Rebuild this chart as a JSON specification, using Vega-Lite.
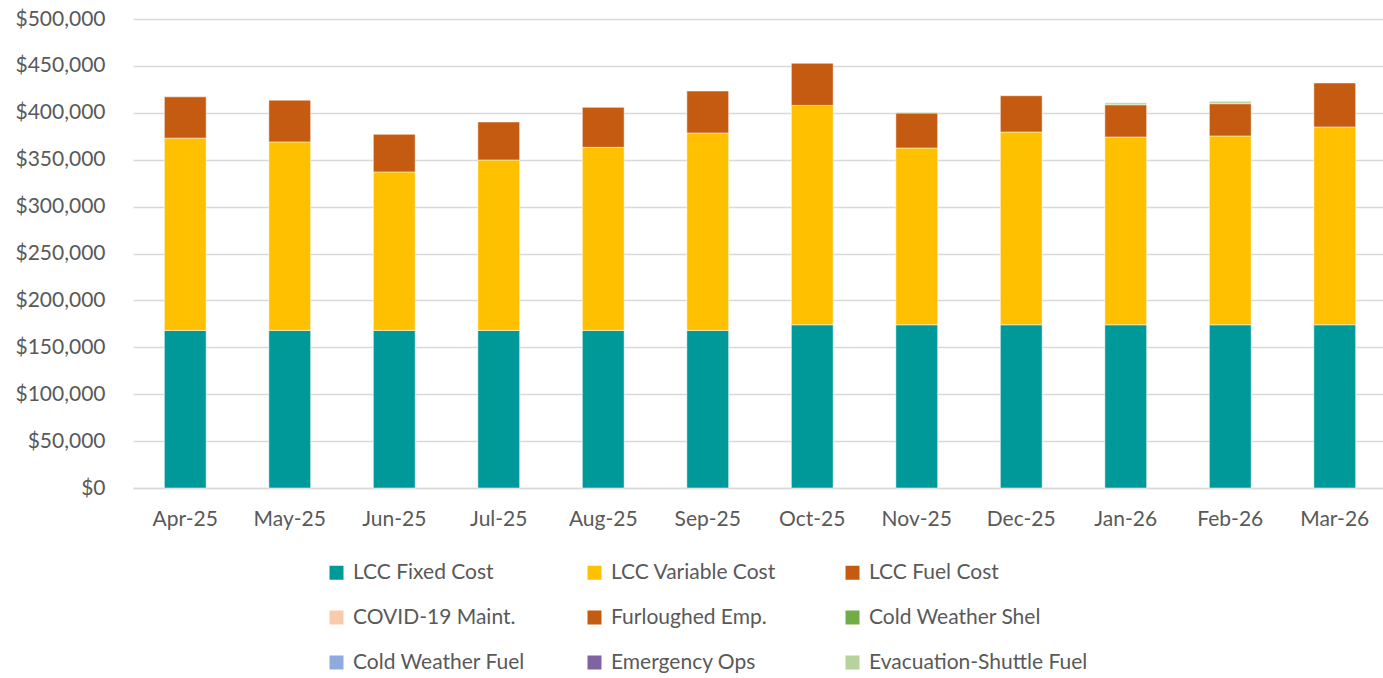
{
  "$schema": "https://vega.github.io/schema/vega-lite/v6.json",
  "autosize": "none",
  "width": 1254,
  "height": 469,
  "padding": {"left": 133, "top": 19, "right": -4, "bottom": 190},
  "background": "white",
  "config": {
    "font": "Lato",
    "view": {"stroke": null},
    "axis": {"labelFont": "Lato", "labelFontSize": 21, "labelColor": "#595959", "ticks": false, "title": null}
  },
  "data": {
    "values": [
      {"month": "Apr-25", "series": "LCC Fixed Cost", "value": 168000},
      {"month": "Apr-25", "series": "LCC Variable Cost", "value": 205000},
      {"month": "Apr-25", "series": "LCC Fuel Cost", "value": 44000},
      {"month": "May-25", "series": "LCC Fixed Cost", "value": 168000},
      {"month": "May-25", "series": "LCC Variable Cost", "value": 201000},
      {"month": "May-25", "series": "LCC Fuel Cost", "value": 44500},
      {"month": "Jun-25", "series": "LCC Fixed Cost", "value": 168000},
      {"month": "Jun-25", "series": "LCC Variable Cost", "value": 169000},
      {"month": "Jun-25", "series": "LCC Fuel Cost", "value": 40000},
      {"month": "Jul-25", "series": "LCC Fixed Cost", "value": 168000},
      {"month": "Jul-25", "series": "LCC Variable Cost", "value": 181700},
      {"month": "Jul-25", "series": "LCC Fuel Cost", "value": 40500},
      {"month": "Aug-25", "series": "LCC Fixed Cost", "value": 168000},
      {"month": "Aug-25", "series": "LCC Variable Cost", "value": 195200},
      {"month": "Aug-25", "series": "LCC Fuel Cost", "value": 42600},
      {"month": "Sep-25", "series": "LCC Fixed Cost", "value": 168000},
      {"month": "Sep-25", "series": "LCC Variable Cost", "value": 210500},
      {"month": "Sep-25", "series": "LCC Fuel Cost", "value": 44700},
      {"month": "Oct-25", "series": "LCC Fixed Cost", "value": 174000},
      {"month": "Oct-25", "series": "LCC Variable Cost", "value": 233900},
      {"month": "Oct-25", "series": "LCC Fuel Cost", "value": 44900},
      {"month": "Nov-25", "series": "LCC Fixed Cost", "value": 174000},
      {"month": "Nov-25", "series": "LCC Variable Cost", "value": 188500},
      {"month": "Nov-25", "series": "LCC Fuel Cost", "value": 37300},
      {"month": "Nov-25", "series": "Cold Weather Shel", "value": 600},
      {"month": "Dec-25", "series": "LCC Fixed Cost", "value": 174000},
      {"month": "Dec-25", "series": "LCC Variable Cost", "value": 205500},
      {"month": "Dec-25", "series": "LCC Fuel Cost", "value": 38700},
      {"month": "Jan-26", "series": "LCC Fixed Cost", "value": 174000},
      {"month": "Jan-26", "series": "LCC Variable Cost", "value": 200200},
      {"month": "Jan-26", "series": "LCC Fuel Cost", "value": 34400},
      {"month": "Jan-26", "series": "Evacuation-Shuttle Fuel", "value": 2000},
      {"month": "Feb-26", "series": "LCC Fixed Cost", "value": 174000},
      {"month": "Feb-26", "series": "LCC Variable Cost", "value": 201300},
      {"month": "Feb-26", "series": "LCC Fuel Cost", "value": 34400},
      {"month": "Feb-26", "series": "Evacuation-Shuttle Fuel", "value": 2500},
      {"month": "Mar-26", "series": "LCC Fixed Cost", "value": 174000},
      {"month": "Mar-26", "series": "LCC Variable Cost", "value": 210900},
      {"month": "Mar-26", "series": "LCC Fuel Cost", "value": 46900}
    ]
  },
  "transform": [
    {"calculate": "indexof(['LCC Fixed Cost','LCC Variable Cost','LCC Fuel Cost','COVID-19 Maint.','Furloughed Emp.','Cold Weather Shel','Cold Weather Fuel','Emergency Ops','Evacuation-Shuttle Fuel'], datum.series)", "as": "stackRank"}
  ],
  "mark": {"type": "bar", "stroke": "white", "strokeOpacity": 0.5, "strokeWidth": 1},
  "encoding": {
    "x": {
      "field": "month",
      "type": "nominal",
      "sort": ["Apr-25","May-25","Jun-25","Jul-25","Aug-25","Sep-25","Oct-25","Nov-25","Dec-25","Jan-26","Feb-26","Mar-26"],
      "scale": {"paddingInner": 0.6, "paddingOuter": 0.3},
      "axis": {"labelAngle": 0, "labelPadding": 20, "domain": true, "domainColor": "#d9d9d9", "domainWidth": 1.5, "grid": false}
    },
    "y": {
      "field": "value",
      "type": "quantitative",
      "stack": "zero",
      "scale": {"domain": [0, 500000], "nice": false},
      "axis": {"format": "$,.0f", "values": [0,50000,100000,150000,200000,250000,300000,350000,400000,450000,500000], "labelOverlap": false, "domain": false, "grid": true, "gridColor": "#d9d9d9", "gridWidth": 1.5, "labelPadding": 28}
    },
    "color": {
      "field": "series",
      "type": "nominal",
      "scale": {
        "domain": ["LCC Fixed Cost","LCC Variable Cost","LCC Fuel Cost","COVID-19 Maint.","Furloughed Emp.","Cold Weather Shel","Cold Weather Fuel","Emergency Ops","Evacuation-Shuttle Fuel"],
        "range": ["#009999","#FFC000","#C55A11","#F8CBAD","#C55A11","#70AD47","#8FAADC","#8064A2","#B5D39B"]
      },
      "legend": {
        "title": null,
        "orient": "none",
        "legendX": 193,
        "legendY": 543,
        "columns": 3,
        "direction": "horizontal",
        "gridAlign": "all",
        "symbolType": "square",
        "symbolSize": 196,
        "symbolStrokeWidth": 0,
        "labelFont": "Lato",
        "labelFontSize": 21,
        "labelColor": "#595959",
        "labelOffset": 6,
        "labelLimit": 400,
        "columnPadding": 12,
        "rowPadding": 23
      }
    },
    "order": {"field": "stackRank", "type": "quantitative", "sort": "ascending"}
  }
}
